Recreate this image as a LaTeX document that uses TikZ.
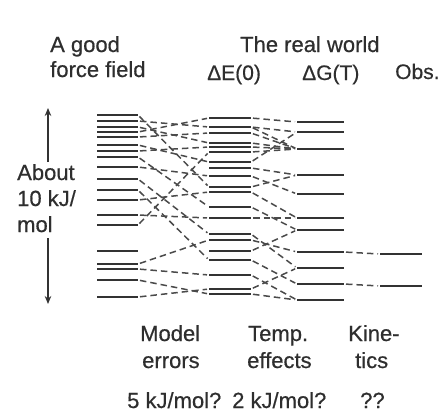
\documentclass[tikz,border=0pt]{standalone}
\usepackage{fontspec}
\setmainfont{Liberation Sans}
\newfontfamily\heavyfont[FakeBold=0.5]{Liberation Sans}
\usetikzlibrary{arrows.meta}
\definecolor{lvl}{HTML}{333333}
\definecolor{lnk}{HTML}{4A4A4A}
\definecolor{txt}{HTML}{2E2E2E}
\begin{document}
\begin{tikzpicture}[x=1pt,y=-1pt,
  level/.style={line width=2.6pt, draw=lvl},
  link/.style={line width=1.5pt, draw=lnk, dash pattern=on 6.5pt off 4pt, shorten <=2pt, shorten >=2pt},
  lbl/.style={anchor=base west, inner sep=0pt, text=txt, font=\heavyfont\fontsize{22}{26}\selectfont},
  sublbl/.style={lbl, font=\heavyfont\fontsize{21}{25}\selectfont},
  scale arrow/.style={line width=1.4pt, draw=lvl, -{Stealth[length=8pt,width=6.5pt]}}]
\useasboundingbox (0,0) rectangle (441,415);
\fill[white] (0,0) rectangle (441,415);
% column 1: force field
\foreach \i/\y in {1/115,2/121,3/127,4/132,5/137,6/145,7/151,8/157,9/167,10/179,11/190,12/200,13/215,14/225,15/251,16/264,17/269,18/280,19/297}{
  \coordinate (aL\i) at (97,\y); \coordinate (aR\i) at (138,\y);
  \draw[level] (aL\i) -- (aR\i);}
% column 2: Delta E(0)
\foreach \i/\y in {1/118,2/127,3/133,4/143,5/147,6/152,7/162,8/168,9/176,10/187,11/192,12/207,13/218,14/234,15/240,16/251,17/260,18/275,19/289,20/294}{
  \coordinate (bL\i) at (209,\y); \coordinate (bR\i) at (251,\y);
  \draw[level] (bL\i) -- (bR\i);}
% column 3: Delta G(T)
\foreach \i/\y in {1/122,2/132,3/149,4/175,5/194,6/218,7/230,8/252,9/268,10/284,11/300}{
  \coordinate (cL\i) at (297,\y); \coordinate (cR\i) at (344,\y);
  \draw[level] (cL\i) -- (cR\i);}
% observed
\foreach \i/\y in {1/254,2/286}{
  \coordinate (oL\i) at (380,\y); \coordinate (oR\i) at (422,\y);
  \draw[level] (oL\i) -- (oR\i);}
% connectors col1 -> col2
\foreach \s/\t in {1/10,2/2,3/4,4/1,5/3,6/7,7/5,8/12,9/9,10/14,12/11,13/13,14/6,11/17,16/15,17/18,18/20,19/19}{
  \draw[link] (aR\s) -- (bL\t);}
% connectors col2 -> col3
\foreach \s/\t in {1/1,2/2,7/2,2/3,4/3,5/3,6/3,3/3,8/4,9/5,10/4,11/6,13/6,12/7,16/7,15/8,14/9,19/9,17/10,18/11,20/11}{
  \draw[link] (bR\s) -- (cL\t);}
% connectors col3 -> observed
\draw[link] (cR8) -- (oL1);
\draw[link] (cR10) -- (oL2);
% energy scale
\coordinate (arTopS) at (48,162); \coordinate (arTopE) at (48,108);
\coordinate (arBotS) at (48,238); \coordinate (arBotE) at (48,304);
\draw[scale arrow] (arTopS) -- (arTopE);
\draw[scale arrow] (arBotS) -- (arBotE);
% labels
\node[lbl] (t1) at (50,52) {A good};
\node[lbl] (t2) at (50,77) {force field};
\node[lbl] (t3) at (240,52) {The real world};
\node[sublbl] (t4) at (207,80) {ΔE(0)};
\node[sublbl] (t5) at (302,80) {ΔG(T)};
\node[sublbl] (t6) at (395,79) {Obs.};
\node[lbl] (l1) at (17,180) {About};
\node[lbl] (l2) at (17,206) {10 kJ/};
\node[lbl] (l3) at (17,232) {mol};
\node[lbl] (b1) at (140,341) {Model};
\node[lbl] (b2) at (142,368) {errors};
\node[lbl] (b3) at (248,341) {Temp.};
\node[lbl] (b4) at (247,368) {effects};
\node[lbl] (b5) at (348,341) {Kine-};
\node[lbl] (b6) at (355,368) {tics};
\node[lbl] (b7) at (127,408) {5 kJ/mol?};
\node[lbl] (b8) at (232,408) {2 kJ/mol?};
\node[lbl] (b9) at (360,408) {??};
\end{tikzpicture}
\end{document}
